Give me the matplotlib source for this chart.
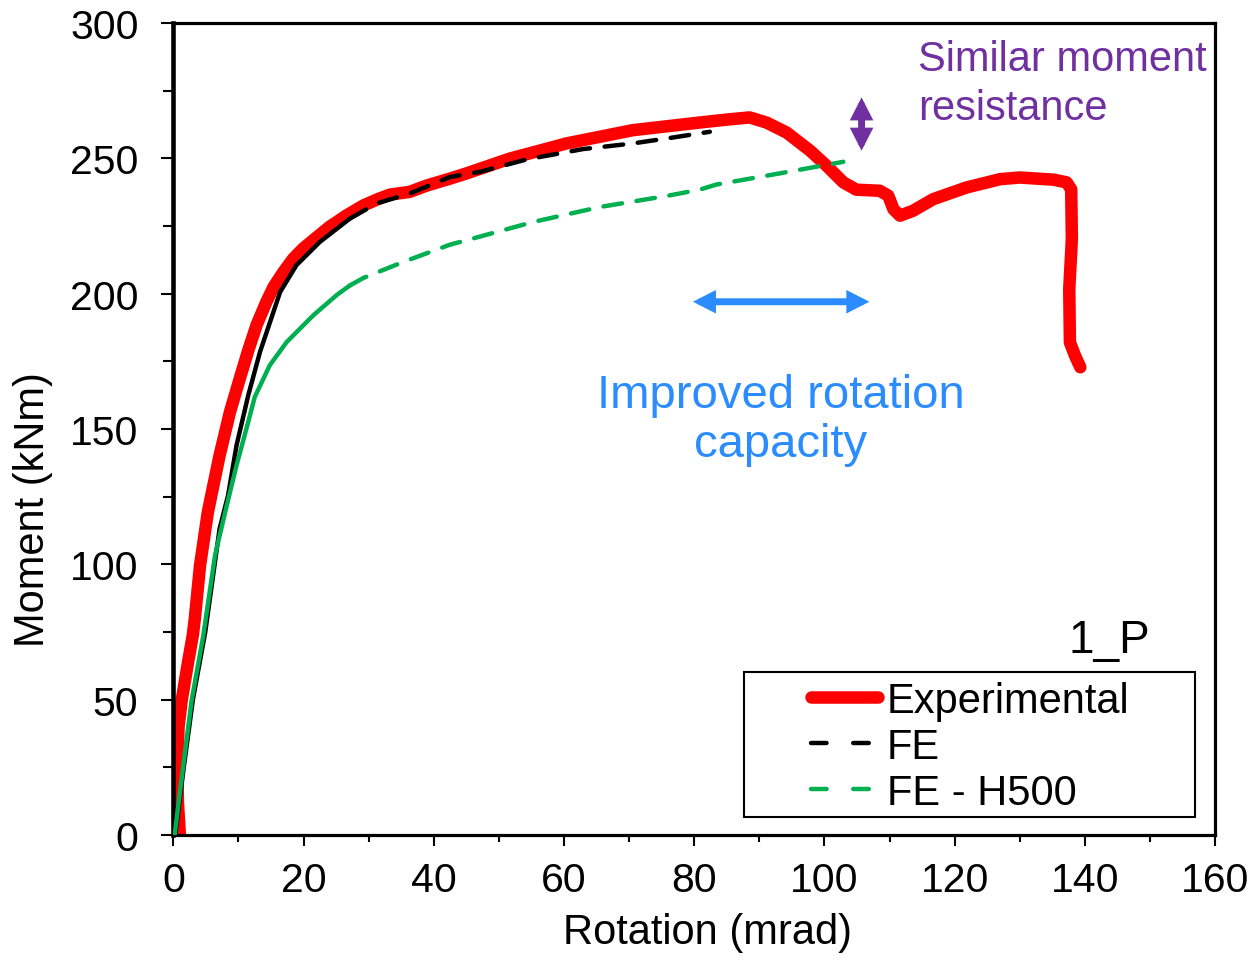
import matplotlib
matplotlib.use("Agg")
import matplotlib.pyplot as plt
import numpy as np
from matplotlib.lines import Line2D
from matplotlib.patches import Rectangle
from matplotlib.ticker import MultipleLocator

# rotation (mrad) / moment (kNm)
exp_rot = [1.0, 0.7, 0.6, 0.8, 1.3, 2.2, 3.0, 3.3, 4.1, 5.3, 7.1, 8.7, 10.2, 11.5,
           12.8, 14.3, 15.4, 16.9, 18.4, 19.9, 22.0, 24.0, 26.6, 29.2, 31.5, 33.3,
           36.3, 39.0, 42.5, 45.0, 51.7, 60.4, 70.6, 80.8, 85.0, 88.5, 91.1, 94.2,
           97.8, 100.3, 102.9, 104.9, 108.5, 109.8, 110.6, 111.6, 113.6, 116.7,
           121.8, 127.0, 130.0, 135.2, 137.2, 137.9, 138.0, 137.6, 137.7, 138.5,
           139.3]
exp_mom = [0, 12, 25, 40, 50, 63, 74, 80, 99.6, 119.3, 140.2, 156.3, 168.6, 179.0,
           188.5, 197.0, 202.5, 208.0, 212.9, 216.6, 220.8, 224.7, 228.9, 232.6,
           235.0, 236.6, 237.6, 240.0, 242.5, 244.4, 249.9, 255.5, 260.4, 263.2,
           264.3, 265.1, 263.2, 259.5, 252.8, 247.3, 241.1, 238.4, 238.0, 236.2,
           231.2, 228.8, 230.6, 234.9, 239.2, 242.3, 242.9, 242.1, 241.1, 238.5,
           220.2, 201.7, 182.0, 177.0, 172.8]

fe_rot = [0.3, 1.6, 3.0, 4.9, 7.1, 8.4, 9.7, 11.5, 13.3, 16.4, 18.9, 22.5, 27.1,
          31.2, 36.3, 42.5, 47.1, 54.3, 62.9, 70.6, 76.8, 82.4]
fe_mom = [0, 25, 50, 75, 113.1, 125.4, 143.9, 162.4, 178.4, 200.6, 210.5, 219.1,
          227.7, 233.3, 237.0, 243.1, 245.0, 249.6, 253.4, 255.5, 257.7, 259.8]

h500_rot = [0.2, 1.5, 2.8, 4.6, 6.4, 8.2, 9.7, 11.5, 12.5, 14.8, 17.4, 21.5, 25.1,
            27.1, 29.2, 35.3, 42.5, 45.0, 55.3, 65.5, 75.8, 80.8, 83.4, 92.6, 102.9]
h500_mom = [0, 25.2, 49.6, 73.7, 103.3, 121.7, 136.5, 152.6, 161.8, 173.5, 182.1,
            192.0, 199.5, 203.0, 205.8, 211.7, 218.1, 219.7, 226.5, 232.0, 236.1,
            238.4, 240.3, 244.2, 248.7]

labels = ["Experimental", "FE", "FE - H500"]

RED = "#FF0000"
GREEN = "#00B050"
BLUE = "#2A8CFF"
PURPLE = "#7030A0"
DASH = (0, (4.2, 3.3))

plt.rcParams["font.family"] = ["Liberation Sans", "DejaVu Sans"]

fig = plt.figure(figsize=(12.58, 9.62), dpi=100)
ax = fig.add_axes([0.1378, 0.131, 0.8281, 0.8441])

ax.plot(exp_rot, exp_mom, color=RED, lw=9, solid_capstyle="round",
        solid_joinstyle="round", zorder=2)

# the FE curves look solid where points are dense, dashed further on
for xs, ys, col in [(fe_rot, fe_mom, "black"), (h500_rot, h500_mom, GREEN)]:
    k = int(np.searchsorted(xs, 28))
    ax.plot(xs[:k], ys[:k], color=col, lw=3.2, solid_capstyle="round",
            solid_joinstyle="round", zorder=3)
    ax.plot(xs[k - 1:], ys[k - 1:], color=col, lw=3.2, ls=DASH,
            dash_capstyle="round", zorder=3)

ax.set_xlim(0, 160)
ax.set_ylim(0, 300)
ax.xaxis.set_major_locator(MultipleLocator(20))
ax.xaxis.set_minor_locator(MultipleLocator(10))
ax.yaxis.set_major_locator(MultipleLocator(50))
ax.yaxis.set_minor_locator(MultipleLocator(25))
ax.tick_params(axis="x", which="major", length=8, width=1.5, labelsize=29.5, pad=11)
ax.tick_params(axis="x", which="minor", length=5, width=1.5)
ax.tick_params(axis="y", which="major", length=8.6, width=1.5, labelsize=29.5, pad=16.5)
ax.tick_params(axis="y", which="minor", length=7, width=1.5)
for side in ["top", "right", "bottom"]:
    ax.spines[side].set_linewidth(2.3)
ax.spines["left"].set_linewidth(3.3)

ax.set_xlabel("Rotation (mrad)", fontsize=30)
ax.set_ylabel("Moment (kNm)", fontsize=30)
ax.xaxis.set_label_coords(0.513, -0.095)
ax.yaxis.set_label_coords(-0.1152, 0.4025)

handles = [
    Line2D([], [], color=RED, lw=9, solid_capstyle="round"),
    Line2D([], [], color="black", lw=3.2, ls=(0, (3.5, 6)), dash_capstyle="round"),
    Line2D([], [], color=GREEN, lw=3.2, ls=(0, (3.5, 6)), dash_capstyle="round"),
]
ax.legend(handles, labels, loc="upper left", bbox_to_anchor=(0.612, 0.1896),
          frameon=False, fontsize=30, handlelength=1.6, handletextpad=0.22,
          borderpad=0, borderaxespad=0, labelspacing=0.14)
ax.add_patch(Rectangle((0.548, 0.022), 0.433, 0.179, transform=ax.transAxes,
                       fill=False, ec="black", lw=1.5, zorder=5))

ax.text(150.0, 67.5, "1_P", fontsize=33, ha="right", va="baseline")
# va="baseline" on multi-line text anchors the last line
ax.text(114.4, 264.5, "Similar moment\nresistance", color=PURPLE, fontsize=30,
        ha="left", va="baseline", linespacing=1.28)
ax.text(93.3, 140.1, "Improved rotation\ncapacity", color=BLUE, fontsize=34,
        ha="center", va="baseline", multialignment="center", linespacing=1.13)

arrow_style = "<|-|>,head_length=0.43,head_width=0.22"
ax.annotate("", xy=(106.9, 197.0), xytext=(79.8, 197.0),
            arrowprops=dict(arrowstyle=arrow_style, mutation_scale=20, lw=5,
                            color=BLUE, shrinkA=0, shrinkB=0, joinstyle="miter"))
ax.annotate("", xy=(105.7, 272.5), xytext=(105.7, 252.8),
            arrowprops=dict(arrowstyle=arrow_style, mutation_scale=20, lw=5,
                            color=PURPLE, shrinkA=0, shrinkB=0, joinstyle="miter"))

fig.savefig("out.png", dpi=100)
